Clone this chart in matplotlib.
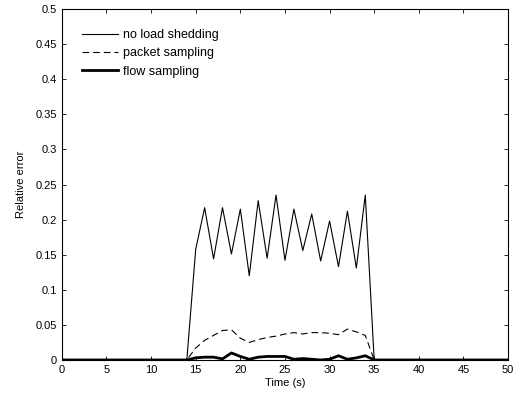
import matplotlib
matplotlib.use('Agg')
import matplotlib.pyplot as plt
import numpy as np

plt.rcParams['font.family'] = ['Liberation Sans', 'DejaVu Sans']
plt.rcParams['font.size'] = 8

# time in seconds, one sample per second
t = np.arange(0, 51)

# active period 14..35 s, zero elsewhere
active_t = list(range(14, 36))
no_shed_active = [0, 0.158, 0.217, 0.144, 0.217, 0.151, 0.215, 0.120, 0.227, 0.145, 0.235,
                  0.142, 0.215, 0.156, 0.208, 0.141, 0.198, 0.133, 0.212, 0.131, 0.235, 0]
packet_active = [0, 0.017, 0.028, 0.035, 0.042, 0.043, 0.031, 0.025, 0.029, 0.032, 0.034,
                 0.037, 0.039, 0.037, 0.039, 0.039, 0.038, 0.036, 0.044, 0.040, 0.035, 0]
flow_active = [0, 0.003, 0.004, 0.004, 0.0015, 0.010, 0.005, 0.001, 0.004, 0.005, 0.005,
               0.005, 0.001, 0.002, 0.001, 0.0, 0.001, 0.006, 0.001, 0.003, 0.006, 0]

no_shed = np.zeros(len(t))
packet = np.zeros(len(t))
flow = np.zeros(len(t))
no_shed[active_t] = no_shed_active
packet[active_t] = packet_active
flow[active_t] = flow_active

fig = plt.figure(figsize=(5.2, 3.96), dpi=100)
ax = fig.add_axes([0.119, 0.091, 0.858, 0.886])

ax.plot(t, no_shed, 'k-', linewidth=0.8, label='no load shedding')
ax.plot(t, packet, 'k--', linewidth=0.8, dashes=(6, 3.6), label='packet sampling')
ax.plot(t, flow, 'k-', linewidth=2, label='flow sampling')

ax.set_xlim(0, 50)
ax.set_ylim(0, 0.5)
ax.set_xticks(np.arange(0, 51, 5))
ax.set_yticks(np.arange(0, 0.51, 0.05))
ax.set_yticklabels(['0', '0.05', '0.1', '0.15', '0.2', '0.25', '0.3', '0.35', '0.4', '0.45', '0.5'])
ax.tick_params(direction='in', top=True, right=True, length=3, width=0.6)
for s in ax.spines.values():
    s.set_linewidth(0.8)

ax.set_xlabel('Time (s)', labelpad=2)
ax.set_ylabel('Relative error', labelpad=7)

ax.legend(loc='upper left', frameon=False, handlelength=2.9, borderaxespad=1.2,
          labelspacing=0.5, fontsize=9, handletextpad=0.4)

fig.savefig('out.png', dpi=100)
